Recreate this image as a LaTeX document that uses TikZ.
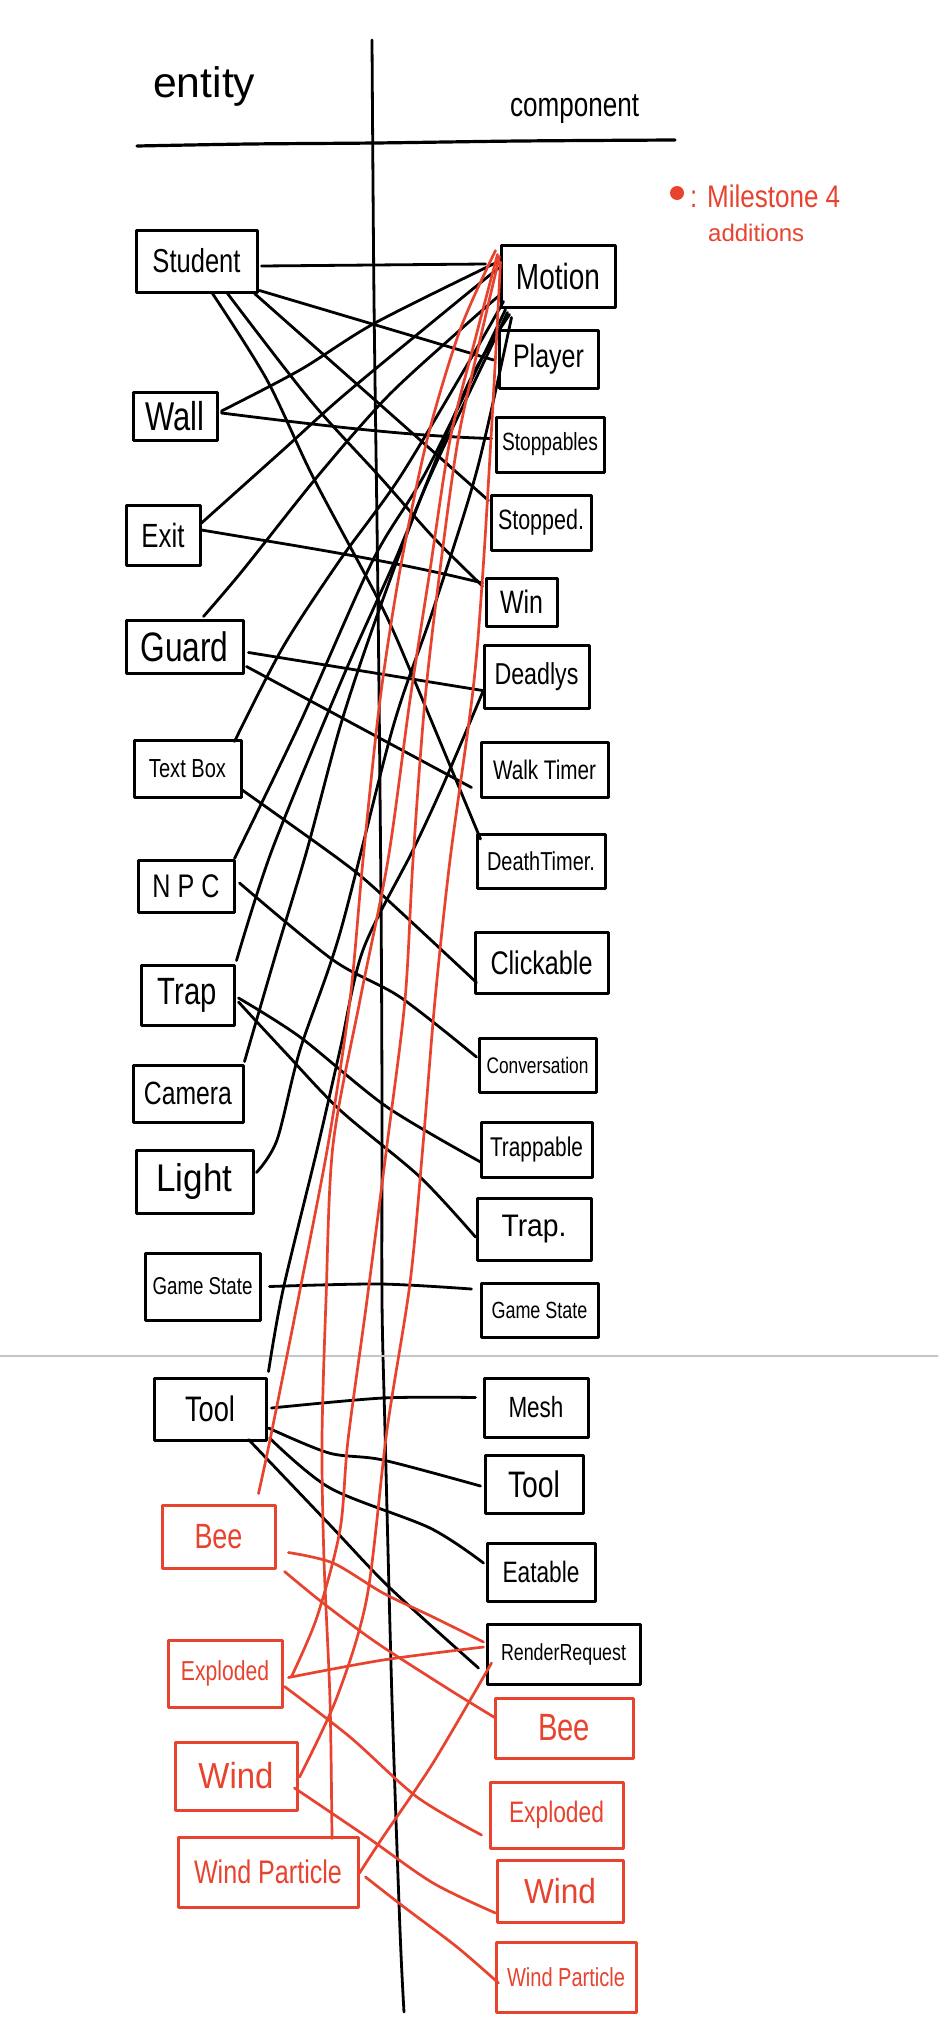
\documentclass[tikz,border=0pt]{standalone}
\usepackage{fontspec}
\setmainfont{Liberation Sans}
\usepackage{graphicx}
\usetikzlibrary{calc}
\definecolor{inkred}{RGB}{232,67,46}
\newcommand{\hw}[3][1.3]{\resizebox{#2pt}{!}{\scalebox{1}[#1]{#3}}}
\begin{document}
\begin{tikzpicture}[x=1pt,y=-1pt,line cap=round,line join=round,
  bbox/.style={draw=black,line width=3pt,inner sep=0pt,text=black},
  rbox/.style={draw=inkred,line width=3pt,inner sep=0pt,text=inkred},
  conn/.style={draw=black,line width=2.8pt},
  rconn/.style={draw=inkred,line width=2.7pt},
  axisline/.style={draw=black,line width=2.8pt},
  lbl/.style={anchor=base west,inner sep=0pt}]
\useasboundingbox (0,0) rectangle (938,2034);
\fill[white] (0,0) rectangle (938,2034);

% axes
\draw[axisline] plot[smooth] coordinates {(372,40) (374,300) (378,600) (381,900) (382,1100) (382,1300) (385,1430) (392,1700) (400,1930) (404,2012)};
\draw[axisline,line width=3.2pt] plot[smooth] coordinates {(137,146) (250,144) (375,143) (520,141) (675,140)};
\draw[gray!45,line width=1.2pt] (0,1356) -- (938,1356);

% headers and legend
\node[lbl] (enttxt) at (153,97) {\hw[1.0]{102}{entity}};
\node[lbl] (comptxt) at (510,116) {\hw{129}{component}};
\fill[inkred] (677,193) circle (7pt);
\node[lbl,text=inkred] (mstxt) at (690,207) {\hw[1.2]{150}{: Milestone 4}};
\node[lbl,text=inkred] (addtxt) at (708,241) {\hw[1.0]{96}{additions}};

% entity boxes
\node[bbox,minimum width=121pt,minimum height=62pt] (student) at (196.5,261) {\hw{88}{Student}};
\node[bbox,minimum width=84pt,minimum height=48pt] (wall) at (175,416) {\hw{59}{Wall}};
\node[bbox,minimum width=74pt,minimum height=60pt] (exit) at (163,535) {\hw{43}{Exit}};
\node[bbox,minimum width=117pt,minimum height=53pt] (guard) at (184.5,646.5) {\hw{88}{Guard}};
\node[bbox,minimum width=107pt,minimum height=57pt] (textbox) at (187.5,768.5) {\hw{77}{Text Box}};
\node[bbox,minimum width=96pt,minimum height=52pt] (npc) at (186,886) {\hw{67}{N P C}};
\node[bbox,minimum width=93pt,minimum height=60pt] (trap) at (187.5,995) {\hw{59}{Trap}};
\node[bbox,minimum width=110pt,minimum height=57pt] (camera) at (188,1093.5) {\hw{88}{Camera}};
\node[bbox,minimum width=117pt,minimum height=63pt] (light) at (194.5,1181.5) {\hw[1.1]{76}{Light}};
\node[bbox,minimum width=115pt,minimum height=67pt] (gamestateL) at (202.5,1286.5) {\hw{100}{Game State}};
\node[bbox,minimum width=112pt,minimum height=62pt] (toolL) at (210,1409) {\hw{50}{Tool}};
\node[rbox,minimum width=113pt,minimum height=63pt] (beeL) at (218.5,1536.5) {\hw{48}{Bee}};
\node[rbox,minimum width=114pt,minimum height=67pt] (explodedL) at (225,1673.5) {\hw{88}{Exploded}};
\node[rbox,minimum width=122pt,minimum height=68pt] (windL) at (236,1776) {\hw[1.1]{75}{Wind}};
\node[rbox,minimum width=180pt,minimum height=70pt] (windparticleL) at (268,1872) {\hw{148}{Wind Particle}};

% component boxes
\node[bbox,minimum width=114pt,minimum height=62pt] (motion) at (558,276) {\hw{84}{Motion}};
\node[bbox,minimum width=99pt,minimum height=58pt] (player) at (548.5,359) {\hw{71}{Player}};
\node[bbox,minimum width=108pt,minimum height=55pt] (stoppables) at (550,444.5) {\hw{96}{Stoppables}};
\node[bbox,minimum width=100pt,minimum height=55pt] (stopped) at (541,522.5) {\hw{86}{Stopped.}};
\node[bbox,minimum width=71pt,minimum height=48pt] (win) at (521.5,602) {\hw{43}{Win}};
\node[bbox,minimum width=105pt,minimum height=63pt] (deadlys) at (536.5,676.5) {\hw{84}{Deadlys}};
\node[bbox,minimum width=127pt,minimum height=55pt] (walktimer) at (544.5,769.5) {\hw{103}{Walk Timer}};
\node[bbox,minimum width=128pt,minimum height=54pt] (deathtimer) at (541,861) {\hw{108}{DeathTimer.}};
\node[bbox,minimum width=133pt,minimum height=61pt] (clickable) at (541.5,962.5) {\hw{102}{Clickable}};
\node[bbox,minimum width=117pt,minimum height=54pt] (conversation) at (537.5,1065) {\hw{102}{Conversation}};
\node[bbox,minimum width=111pt,minimum height=55pt] (trappable) at (536.5,1149.5) {\hw{93}{Trappable}};
\node[bbox,minimum width=114pt,minimum height=62pt] (trapR) at (534,1229) {\hw[1.1]{65}{Trap.}};
\node[bbox,minimum width=117pt,minimum height=54pt] (gamestateR) at (539.5,1310) {\hw{96}{Game State}};
\node[bbox,minimum width=104pt,minimum height=59pt] (mesh) at (536,1407.5) {\hw{55}{Mesh}};
\node[bbox,minimum width=98pt,minimum height=58pt] (toolR) at (534,1484) {\hw{52}{Tool}};
\node[bbox,minimum width=108pt,minimum height=58pt] (eatable) at (541,1572) {\hw{77}{Eatable}};
\node[bbox,minimum width=153pt,minimum height=60pt] (renderrequest) at (563.5,1654) {\hw{125}{RenderRequest}};
\node[rbox,minimum width=138pt,minimum height=60pt] (beeR) at (564,1728) {\hw{52}{Bee}};
\node[rbox,minimum width=133pt,minimum height=66pt] (explodedR) at (556.5,1815) {\hw{95}{Exploded}};
\node[rbox,minimum width=126pt,minimum height=62pt] (windR) at (560,1891) {\hw[1.1]{72}{Wind}};
\node[rbox,minimum width=140pt,minimum height=70pt] (windparticleR) at (566,1977) {\hw{118}{Wind Particle}};

% endpoint coordinates
\coordinate (b4s) at ($(student.south)+(31,0)$);
\coordinate (b4e) at ($(win.west)+(-2,-16)$);
\coordinate (b5s) at ($(student.south)+(16,0)$);
\coordinate (b5e) at ($(deathtimer.west)+(5,-22)$);
\coordinate (b6s) at ($(wall.east)+(3,-5)$);
\coordinate (b6e) at ($(motion.west)+(-2,-14)$);
\coordinate (b8s) at ($(exit.east)+(0,-12)$);
\coordinate (b8e) at ($(motion.west)+(-1,-8)$);
\coordinate (b10s) at ($(guard.north)+(19,-2)$);
\coordinate (b10e) at ($(motion.south west)+(2,-15)$);
\coordinate (b13s) at ($(textbox.north east)+(-8,3)$);
\coordinate (b13e) at ($(motion.south west)+(4,-7)$);
\coordinate (b14s) at ($(textbox.east)+(-1,21)$);
\coordinate (b14e) at ($(clickable.west)+(3,20)$);
\coordinate (b15s) at ($(npc.north east)+(-1,0)$);
\coordinate (b15e) at ($(motion.south west)+(6,1)$);
\coordinate (b16s) at ($(npc.east)+(4,-3)$);
\coordinate (b16e) at ($(conversation.west)+(-1,-8)$);
\coordinate (b17s) at ($(trap.north east)+(1,-3)$);
\coordinate (b17e) at ($(motion.south west)+(8,4)$);
\coordinate (b18s) at ($(trap.east)+(3,3)$);
\coordinate (b18e) at ($(trappable.west)+(2,13)$);
\coordinate (b19s) at ($(trap.east)+(3,7)$);
\coordinate (b19e) at ($(trapR.west)+(0,8)$);
\coordinate (b20s) at ($(camera.north east)+(0,-2)$);
\coordinate (b20e) at ($(motion.south west)+(10,6)$);
\coordinate (b21s) at ($(light.east)+(2,-9)$);
\coordinate (b21e) at ($(motion.south west)+(12,9)$);
\coordinate (b22s) at ($(toolL.north east)+(1,-5)$);
\coordinate (b22e) at ($(deadlys.west)+(0,16)$);
\coordinate (b23s) at ($(toolL.east)+(4,-1)$);
\coordinate (b23e) at ($(mesh.west)+(-7,-10)$);
\coordinate (b24s) at ($(toolL.east)+(1,19)$);
\coordinate (b24e) at ($(toolR.west)+(-3,2)$);
\coordinate (b25s) at ($(toolL.east)+(2,29)$);
\coordinate (b25e) at ($(eatable.west)+(-2,-9)$);
\coordinate (b26s) at ($(toolL.south east)+(-19,-2)$);
\coordinate (b26e) at ($(renderrequest.west)+(-7,14)$);
\coordinate (b27s) at ($(gamestateL.east)+(8,0)$);
\coordinate (b27e) at ($(gamestateR.west)+(-8,-21)$);
\coordinate (r1s) at ($(beeL.north east)+(-18,-10)$);
\coordinate (r1e) at ($(motion.north west)+(-4,7)$);
\coordinate (r2s) at ($(windparticleL.north)+(64,3)$);
\coordinate (r2e) at ($(motion.north west)+(-2,11)$);
\coordinate (r3s) at ($(explodedL.east)+(8,3)$);
\coordinate (r3e) at ($(motion.north west)+(0,13)$);
\coordinate (r4s) at ($(windL.east)+(1,1)$);
\coordinate (r4e) at ($(motion.west)+(1,-14)$);
\coordinate (r5s) at ($(beeL.east)+(12,16)$);
\coordinate (r5e) at ($(renderrequest.west)+(-2,-12)$);
\coordinate (r6s) at ($(beeL.south east)+(8,2)$);
\coordinate (r6e) at ($(beeR.west)+(2,-10)$);
\coordinate (r7s) at ($(explodedL.east)+(5,4)$);
\coordinate (r7e) at ($(renderrequest.west)+(-2,-7)$);
\coordinate (r8s) at ($(explodedL.east)+(1,13)$);
\coordinate (r8e) at ($(explodedR.west)+(-7,20)$);
\coordinate (r9s) at ($(windL.east)+(-4,12)$);
\coordinate (r9e) at ($(windR.west)+(0,22)$);
\coordinate (r10s) at ($(windparticleL.east)+(6,5)$);
\coordinate (r10e) at ($(windparticleR.west)+(4,6)$);
\coordinate (r11s) at ($(renderrequest.west)+(6,9)$);
\coordinate (r11e) at ($(windparticleL.east)+(0,1)$);

% black connectors
\draw[conn] ($(student.east)+(3,5)$) -- ($(motion.west)+(-14,-12)$);
\draw[conn] ($(student.south east)+(1,-3)$) -- ($(player.west)+(-4,1)$);
\draw[conn] ($(student.south)+(58,0)$) -- ($(stopped.west)+(-1,-22)$);
\draw[conn] plot[smooth] coordinates {(b4s) (310,400) (380,477) (433,537) (b4e)};
\draw[conn] plot[smooth] coordinates {(b5s) (267,380) (313,477) (380,603) (413,677) (b5e)};
\draw[conn] plot[smooth] coordinates {(b6s) (300,370) (375,323) (b6e)};
\draw[conn] ($(wall.east)+(3,-3)$) .. controls (310,424) and (405,436) .. ($(stoppables.west)+(-3,-6)$);
\draw[conn] plot[smooth] coordinates {(b8s) (283,450) (350,390) (b8e)};
\draw[conn] ($(exit.east)+(0,-5)$) .. controls (290,545) and (390,560) .. ($(win.west)+(-2,-19)$);
\draw[conn] plot[smooth] coordinates {(b10s) (243,570) (317,477) (387,397) (460,330) (b10e)};
\draw[conn] ($(guard.east)+(4,6)$) -- ($(deadlys.west)+(0,14)$);
\draw[conn] ($(guard.east)+(2,20)$) -- ($(walktimer.west)+(-8,18)$);
\draw[conn] plot[smooth] coordinates {(b13s) (283,647) (340,560) (400,477) (470,360) (b13e)};
\draw[conn] plot[smooth] coordinates {(b14s) (340,860) (380,893) (b14e)};
\draw[conn] plot[smooth] coordinates {(b15s) (300,723) (373,560) (427,470) (b15e)};
\draw[conn] plot[smooth] coordinates {(b16s) (333,960) (400,997) (b16e)};
\draw[conn] plot[smooth] coordinates {(b17s) (272,850) (343,677) (393,565) (433,470) (b17e)};
\draw[conn] plot[smooth] coordinates {(b18s) (300,1037) (387,1107) (b18e)};
\draw[conn] plot[smooth] coordinates {(b19s) (283,1050) (340,1110) (420,1177) (b19e)};
\draw[conn] plot[smooth] coordinates {(b20s) (277,950) (307,850) (340,727) (373,627) (420,500) (470,380) (b20e)};
\draw[conn] plot[smooth] coordinates {(b21s) (277,1140) (300,1050) (340,933) (393,727) (433,610) (477,470) (b21e)};
\draw[conn] plot[smooth] coordinates {(b22s) (283,1290) (317,1150) (340,1050) (363,950) (413,850) (444,783) (b22e)};
\draw[conn] plot[smooth] coordinates {(b23s) (383,1398) (b23e)};
\draw[conn] plot[smooth] coordinates {(b24s) (329,1453) (383,1460) (b24e)};
\draw[conn] plot[smooth] coordinates {(b25s) (330,1488) (430,1528) (b25e)};
\draw[conn] plot[smooth] coordinates {(b26s) (330,1525) (390,1588) (b26e)};
\draw[conn] plot[smooth] coordinates {(b27s) (380,1284) (b27e)};

% red connectors
\draw[rconn] plot[smooth] coordinates {(r1s) (270,1440) (300,1290) (328,1145) (350,1000) (363,860) (380,700) (400,570) (427,440) (460,330) (r1e)};
\draw[rconn] plot[smooth] coordinates {(r2s) (330,1700) (324,1560) (322,1440) (326,1300) (333,1145) (360,1000) (388,860) (410,700) (430,570) (450,440) (475,340) (r2e)};
\draw[rconn] plot[smooth] coordinates {(r3s) (317,1617) (340,1530) (348,1440) (367,1300) (387,1145) (405,1000) (413,860) (425,700) (440,570) (458,440) (480,340) (r3e)};
\draw[rconn] plot[smooth] coordinates {(r4s) (337,1697) (367,1597) (387,1430) (410,1283) (423,1145) (435,1000) (450,860) (473,690) (483,570) (493,403) (r4e)};
\draw[rconn] plot[smooth] coordinates {(r5s) (333,1563) (383,1593) (433,1617) (r5e)};
\draw[rconn] plot[smooth] coordinates {(r6s) (323,1603) (377,1643) (450,1690) (r6e)};
\draw[rconn] plot[smooth] coordinates {(r7s) (383,1660) (r7e)};
\draw[rconn] plot[smooth] coordinates {(r8s) (350,1737) (417,1797) (r8e)};
\draw[rconn] plot[smooth] coordinates {(r9s) (367,1837) (433,1883) (r9e)};
\draw[rconn] plot[smooth] coordinates {(r10s) (404,1907) (457,1947) (r10e)};
\draw[rconn] plot[smooth] coordinates {(r11s) (433,1763) (383,1837) (r11e)};
\end{tikzpicture}
\end{document}
